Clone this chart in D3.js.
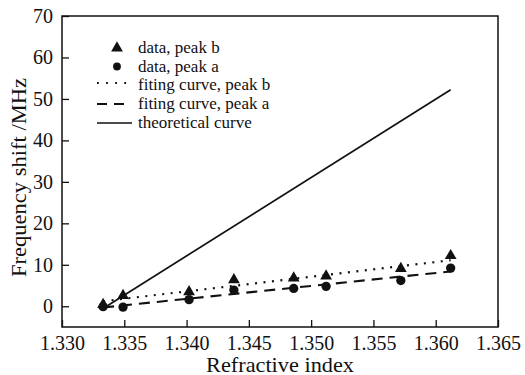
<!DOCTYPE html>
<html><head><meta charset="utf-8">
<script src="https://cdn.jsdelivr.net/npm/d3@7"></script>
<style>body{margin:0;background:#fff}svg{display:block}</style>
</head><body><svg id="c" width="525" height="375"></svg>
<script>
const refractiveIndex = [1.3333, 1.3349, 1.3402, 1.3438, 1.3486, 1.3512, 1.3572, 1.3612];
const peakB = [0.4, 2.6, 3.5, 6.4, 6.8, 7.3, 9.1, 12.2];
const peakA = [-0.1, -0.2, 1.6, 3.9, 4.3, 4.8, 6.2, 9.2];
const fitB = [[1.3333, 1.2], [1.3612, 11.1]];
const fitA = [[1.3333, -0.3], [1.3612, 8.4]];
const theory = [[1.3332, -0.7], [1.3612, 52.2]];
const xTicks = [1.330, 1.335, 1.340, 1.345, 1.350, 1.355, 1.360, 1.365];
const yTicks = [0, 10, 20, 30, 40, 50, 60, 70];
const legendLabels = ["data, peak b", "data, peak a", "fiting curve, peak b", "fiting curve, peak a", "theoretical curve"];

const FONT = '"Liberation Serif", Tinos, "Times New Roman", serif';
const svg = d3.select("#c");
const L = 62, R = 498, T = 16, B = 327;
const x = d3.scaleLinear().domain([1.330, 1.365]).range([L, R]);
const y = d3.scaleLinear().domain([-5, 70]).range([B, T]);
const ink = "#111";

const xa = svg.append("g").attr("transform", `translate(0,${B})`)
  .call(d3.axisBottom(x).tickValues(xTicks).tickFormat(d3.format(".3f")).tickSizeInner(-7).tickSizeOuter(0).tickPadding(12));
const ya = svg.append("g").attr("transform", `translate(${L},0)`)
  .call(d3.axisLeft(y).tickValues(yTicks).tickFormat(d3.format("d")).tickSizeInner(-7).tickSizeOuter(0).tickPadding(9));
[xa, ya].forEach(g => {
  g.attr("font-family", FONT).attr("font-size", 20);
  g.select(".domain").remove();
  g.selectAll("line").attr("stroke", ink).attr("stroke-width", 1.3);
  g.selectAll("text").attr("fill", ink);
});
xa.selectAll("text").attr("dy", null).attr("y", 349.5 - B);
svg.append("rect").attr("x", L).attr("y", T).attr("width", R - L).attr("height", B - T)
  .attr("fill", "none").attr("stroke", ink).attr("stroke-width", 1.5);

svg.append("text").attr("x", 206).attr("y", 371.5)
  .attr("font-size", 21).attr("font-family", FONT).attr("fill", ink)
  .attr("textLength", 148).attr("lengthAdjust", "spacingAndGlyphs").text("Refractive index");
svg.append("text").attr("transform", "translate(25.5,277) rotate(-90)")
  .attr("font-size", 22).attr("font-family", FONT).attr("fill", ink)
  .attr("textLength", 199).attr("lengthAdjust", "spacingAndGlyphs").text("Frequency shift /MHz");

const line = d3.line().x(d => x(d[0])).y(d => y(d[1]));
svg.append("path").datum(theory).attr("d", line).attr("stroke", ink).attr("stroke-width", 1.7).attr("fill", "none");
svg.append("path").datum(fitB).attr("d", line).attr("stroke", ink).attr("stroke-width", 2.1).attr("fill", "none")
  .attr("stroke-dasharray", "2,6.5");
svg.append("path").datum(fitA).attr("d", line).attr("stroke", ink).attr("stroke-width", 2.1).attr("fill", "none")
  .attr("stroke-dasharray", "11,7");

const tri = d3.symbol().type(d3.symbolTriangle).size(60);
const cir = d3.symbol().type(d3.symbolCircle).size(68);
svg.append("g").selectAll("path").data(refractiveIndex).join("path")
  .attr("d", tri).attr("transform", (d, i) => `translate(${x(d)},${y(peakB[i])})`).attr("fill", ink);
svg.append("g").selectAll("path").data(refractiveIndex).join("path")
  .attr("d", cir).attr("transform", (d, i) => `translate(${x(d)},${y(peakA[i])})`).attr("fill", ink);

const rows = [48, 66.5, 85, 104, 123];
const lg = svg.append("g");
lg.append("path").attr("d", tri).attr("transform", `translate(117,${rows[0]})`).attr("fill", ink);
lg.append("path").attr("d", d3.symbol().type(d3.symbolCircle).size(48)).attr("transform", `translate(117,${rows[1]})`).attr("fill", ink);
lg.append("line").attr("x1", 97).attr("x2", 132).attr("y1", rows[2] - 2).attr("y2", rows[2] - 2)
  .attr("stroke", ink).attr("stroke-width", 1.8).attr("stroke-dasharray", "1.8,7.3");
lg.append("line").attr("x1", 97).attr("x2", 126).attr("y1", rows[3]).attr("y2", rows[3])
  .attr("stroke", ink).attr("stroke-width", 2).attr("stroke-dasharray", "10,7");
lg.append("line").attr("x1", 97).attr("x2", 132).attr("y1", rows[4]).attr("y2", rows[4])
  .attr("stroke", ink).attr("stroke-width", 1.6);
lg.selectAll("text").data(legendLabels).join("text")
  .attr("x", 138).attr("y", (d, i) => rows[i]).attr("dy", "0.32em").attr("font-size", 17)
  .attr("font-family", FONT).attr("fill", ink).text(d => d);
</script></body></html>
